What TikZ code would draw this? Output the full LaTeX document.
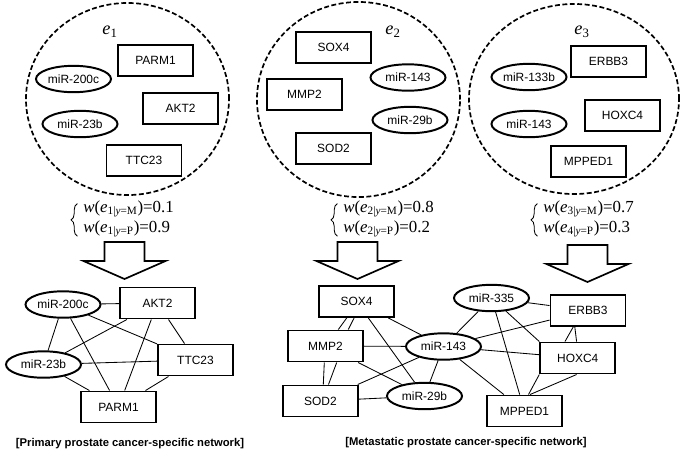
\documentclass[tikz,border=0pt]{standalone}
\usepackage{fontspec}
\setmainfont{Liberation Serif}
\setsansfont{Liberation Sans}
\usetikzlibrary{shapes.geometric, decorations.pathreplacing}

\begin{document}
\begin{tikzpicture}[
    x=0.025cm, y=-0.025cm,
    gene/.style={
      draw, rectangle, line width=1.4pt,
      minimum width=1.875cm, minimum height=0.775cm,
      font=\sffamily\fontsize{8.5}{10}\selectfont
    },
    mirna/.style={
      draw, ellipse, line width=1.4pt, inner sep=0pt,
      minimum width=1.875cm, minimum height=0.66cm,
      font=\sffamily\fontsize{8.5}{10}\selectfont
    },
    pool/.style={draw, ellipse, line width=1.2pt, dash pattern=on 3.5pt off 1.8pt},
    link/.style={line width=0.6pt},
    weight/.style={anchor=base west, inner sep=0pt, font=\fontsize{12}{14}\selectfont},
    elabel/.style={font=\fontsize{13}{15}\selectfont},
    caption/.style={font=\sffamily\bfseries\fontsize{8}{10}\selectfont},
    bigarrow/.style={line width=1.2pt, line join=miter},
    setbrace/.style={decorate, decoration={brace, amplitude=4.5pt}, line width=0.6pt}
]
    \useasboundingbox (0,0) rectangle (685,456);

    % Feature sets
    \node[pool, minimum width=5.075cm, minimum height=4.8cm] (pool1) at (127.5,99) {};
    \node[pool, minimum width=5.075cm, minimum height=4.875cm] (pool2) at (358.5,99.5) {};
    \node[pool, minimum width=5.25cm, minimum height=4.75cm] (pool3) at (574,99) {};

    \node[elabel] (e1) at (110,32) {\textit{e}\textsubscript{1}};
    \node[gene] (s1parm1) at (155.5,60.5) {PARM1};
    \node[mirna] (s1mir200c) at (73.5,79) {miR-200c};
    \node[gene] (s1akt2) at (180.5,108.5) {AKT2};
    \node[mirna] (s1mir23b) at (80,124) {miR-23b};
    \node[gene] (s1ttc23) at (144,160.5) {TTC23};

    \node[elabel] (e2) at (393,32) {\textit{e}\textsubscript{2}};
    \node[gene] (s2sox4) at (333.5,47.5) {SOX4};
    \node[mirna] (s2mir143) at (408,77.5) {miR-143};
    \node[gene] (s2mmp2) at (304.5,94.5) {MMP2};
    \node[mirna] (s2mir29b) at (410,120) {miR-29b};
    \node[gene] (s2sod2) at (333.5,148.5) {SOD2};

    \node[elabel] (e3) at (582,32) {\textit{e}\textsubscript{3}};
    \node[gene] (s3erbb3) at (608.5,61.5) {ERBB3};
    \node[mirna] (s3mir133b) at (529,77) {miR-133b};
    \node[gene] (s3hoxc4) at (622.5,115.5) {HOXC4};
    \node[mirna] (s3mir143) at (529,124) {miR-143};
    \node[gene] (s3mpped1) at (588.5,161.5) {MPPED1};

    % Weights
    \node[weight] (w1m) at (83,212) {\textit{w}(\textit{e}\textsubscript{1|\textit{y}=M})=0.1};
    \node[weight] (w1p) at (83,232) {\textit{w}(\textit{e}\textsubscript{1|\textit{y}=P})=0.9};
    \node[weight] (w2m) at (343,212) {\textit{w}(\textit{e}\textsubscript{2|\textit{y}=M})=0.8};
    \node[weight] (w2p) at (343,232) {\textit{w}(\textit{e}\textsubscript{2|\textit{y}=P})=0.2};
    \node[weight] (w3m) at (543,212) {\textit{w}(\textit{e}\textsubscript{3|\textit{y}=M})=0.7};
    \node[weight] (w3p) at (543,232) {\textit{w}(\textit{e}\textsubscript{4|\textit{y}=P})=0.3};

    \draw[setbrace] ([xshift=-4pt,yshift=-3pt]w1p.base west) -- ([xshift=-4pt,yshift=6pt]w1m.base west);
    \draw[setbrace] ([xshift=-4pt,yshift=-3pt]w2p.base west) -- ([xshift=-4pt,yshift=6pt]w2m.base west);
    \draw[setbrace] ([xshift=-4pt,yshift=-3pt]w3p.base west) -- ([xshift=-4pt,yshift=6pt]w3m.base west);

    % Block arrows
    \foreach \x/\y in {124.5/242, 357.5/242, 587.5/245}
      \draw[bigarrow] (\x-20,\y) -- (\x+20,\y) -- (\x+20,\y+19) -- (\x+41,\y+19)
        -- (\x,\y+37) -- (\x-41,\y+19) -- (\x-20,\y+19) -- cycle;

    % Primary network
    \node[mirna] (p200c) at (63,304.5) {miR-200c};
    \node[gene] (pakt2) at (157.5,303) {AKT2};
    \node[mirna] (p23b) at (43.5,364.5) {miR-23b};
    \node[gene] (pttc23) at (195.5,360) {TTC23};
    \node[gene] (pparm1) at (118.5,407) {PARM1};

    \draw[link] (p200c) -- (pakt2);
    \draw[link] (p200c) -- (p23b);
    \draw[link] (p200c) -- (pparm1);
    \draw[link] (p200c) -- (pttc23);
    \draw[link] (pakt2) -- (p23b);
    \draw[link] (pakt2) -- (pparm1);
    \draw[link] (pakt2) -- (pttc23);
    \draw[link] (p23b) -- (pttc23);
    \draw[link] (p23b) -- (pparm1);
    \draw[link] (pttc23) -- (pparm1);

    % Metastatic network
    \node[gene] (msox4) at (356.5,301.5) {SOX4};
    \node[gene] (mmmp2) at (325.5,346) {MMP2};
    \node[mirna] (m143) at (443.5,346.5) {miR-143};
    \node[gene] (msod2) at (320.5,401) {SOD2};
    \node[mirna] (m29b) at (424.5,396) {miR-29b};
    \node[mirna] (m335) at (491.5,298) {miR-335};
    \node[gene] (merbb3) at (588,310.5) {ERBB3};
    \node[gene] (mhoxc4) at (577.8,358) {HOXC4};
    \node[gene] (mmpped1) at (524.5,411) {MPPED1};

    \draw[link] ([xshift=-0.245cm]msox4.south) -- ([xshift=0.32cm]mmmp2.north);
    \draw[link] ([xshift=-0.06cm]msox4.south) -- ([xshift=0.57cm]mmmp2.north);
    \draw[link] ([xshift=-0.03cm]mmmp2.south) -- ([xshift=0.07cm]msod2.north);
    \draw[link] ([xshift=0.28cm]mmmp2.south) -- ([xshift=0.2cm]msod2.north);
    \draw[link] (msox4) -- (m143);
    \draw[link] (msox4) -- (m29b);
    \draw[link] (mmmp2) -- (m143);
    \draw[link] (mmmp2) -- (m29b);
    \draw[link] (msod2) -- (m143);
    \draw[link] (msod2) -- (m29b);
    \draw[link] (m143) -- (m29b);
    \draw[link] (m143) -- (m335);
    \draw[link] (m143) -- (merbb3);
    \draw[link] (m143) -- (mhoxc4);
    \draw[link] (m143) -- (mmpped1);
    \draw[link] (m335) -- (merbb3);
    \draw[link] (m335) -- (mhoxc4.north west);
    \draw[link] (m335) -- (mmpped1);
    \draw[link] ([xshift=-0.37cm]merbb3.south) -- ([xshift=-0.32cm]mhoxc4.north);
    \draw[link] ([xshift=-0.33cm]merbb3.south) -- ([xshift=-0.03cm]mhoxc4.north);
    \draw[link] (mhoxc4.south west) -- ([xshift=0.1cm]mmpped1.north);
    \draw[link] ([xshift=-0.03cm]mhoxc4.south) -- ([xshift=0.14cm]mmpped1.north);

    % Captions
    \node[caption] (cap1) at (130,444) {[Primary prostate cancer-specific network]};
    \node[caption] (cap2) at (466,443) {[Metastatic prostate cancer-specific network]};
\end{tikzpicture}
\end{document}
